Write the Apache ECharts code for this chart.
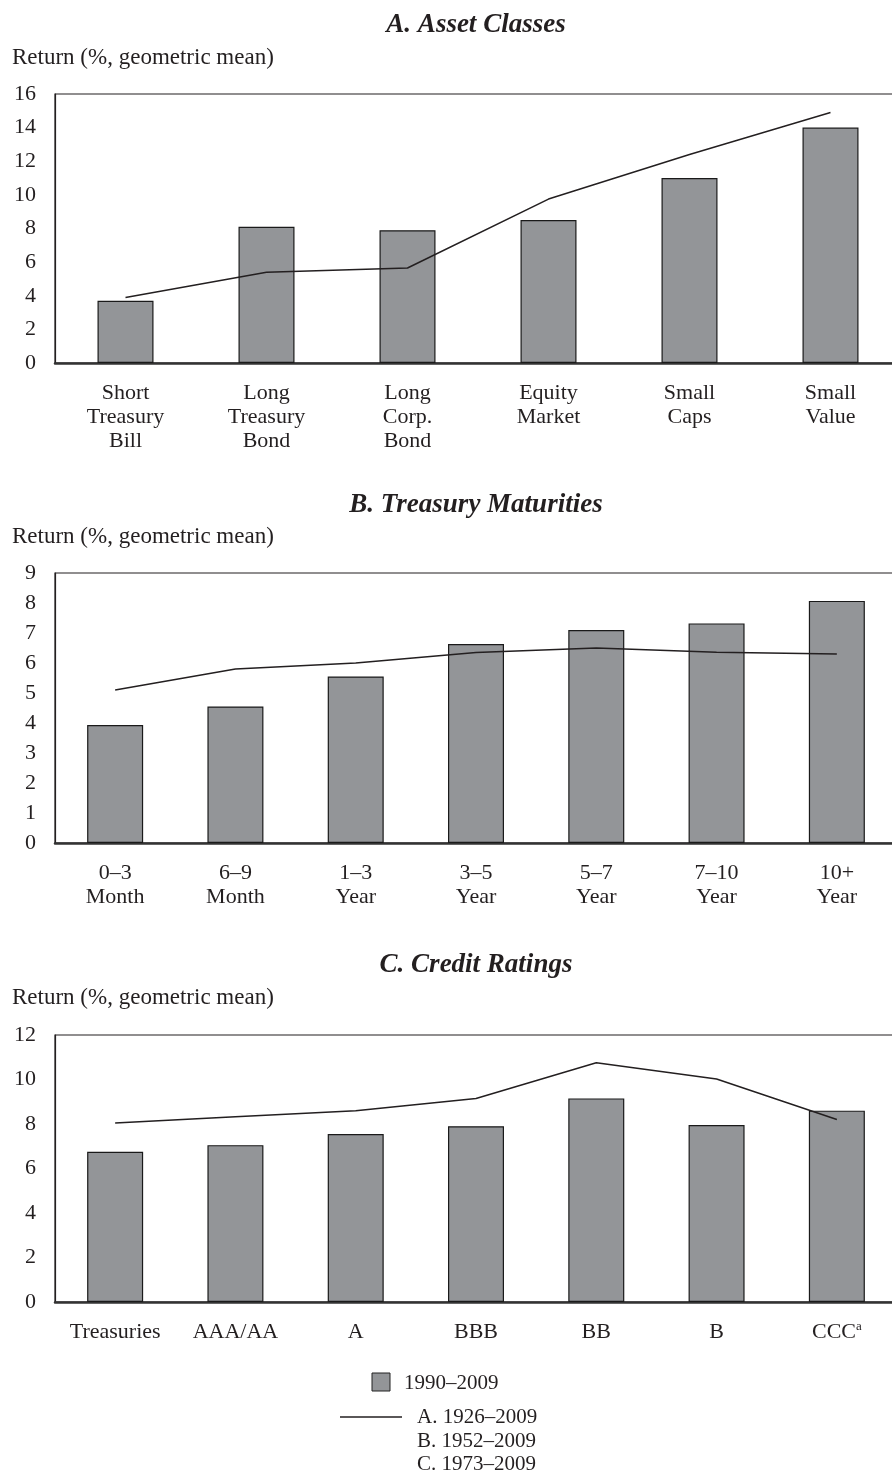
<!DOCTYPE html>
<html><head><meta charset="utf-8">
<script src="https://cdn.jsdelivr.net/npm/echarts@6/dist/echarts.min.js"></script>
<style>html,body{margin:0;padding:0;background:#fff;overflow:hidden}#c{width:920px;height:1473px}</style>
</head><body><div id="c"></div>
<script>
const catsA = ['Short\nTreasury\nBill','Long\nTreasury\nBond','Long\nCorp.\nBond','Equity\nMarket','Small\nCaps','Small\nValue'];
const barsA = [3.7, 8.1, 7.9, 8.5, 11.0, 14.0];
const lineA = [3.9, 5.4, 5.65, 9.75, 12.4, 14.9];
const ticksA = [0, 16, 2];

const catsB = ['0–3\nMonth','6–9\nMonth','1–3\nYear','3–5\nYear','5–7\nYear','7–10\nYear','10+\nYear'];
const barsB = [3.93, 4.55, 5.55, 6.63, 7.1, 7.32, 8.07];
const lineB = [5.1, 5.8, 6.0, 6.35, 6.5, 6.36, 6.3];
const ticksB = [0, 9, 1];

const catsC = ['Treasuries','AAA/AA','A','BBB','BB','B','CCCᵃ'];
const barsC = [6.75, 7.05, 7.55, 7.9, 9.15, 7.95, 8.6];
const lineC = [8.05, 8.33, 8.6, 9.15, 10.75, 10.02, 8.2];
const ticksC = [0, 12, 2];

const titles = ['A. Asset Classes','B. Treasury Maturities','C. Credit Ratings'];
const yName = 'Return (%, geometric mean)';
const legendBar = '1990–2009';
const legendLine = ['A. 1926–2009','B. 1952–2009','C. 1973–2009'];

const FONT = '"Liberation Serif", "DejaVu Serif", serif';
const ink = '#231f20';
const barFill = '#939598';

const grids = [
  {left:55, top:94, width:846, height:269},
  {left:55, top:573, width:842, height:270},
  {left:55, top:1035, width:842, height:267}
];
const titleY = [25, 505, 965];
const yNameY = [58, 537, 998];
const cats = [catsA, catsB, catsC];
const bars = [barsA, barsB, barsC];
const lines = [lineA, lineB, lineC];
const ticks = [ticksA, ticksB, ticksC];

const option = {
  animation:false,
  textStyle:{fontFamily:FONT},
  grid: grids.map(g => Object.assign({show:true, borderColor:ink, borderWidth:1.2, containLabel:false}, g)),
  xAxis: cats.map((c,i) => ({
    type:'category', gridIndex:i, data:c,
    axisLine:{show:true, lineStyle:{color:'#333', width:2.5}},
    axisTick:{show:false},
    axisLabel:{interval:0, color:ink, fontSize:22, lineHeight:24, margin:18, fontFamily:FONT,
      formatter: v => v.replace('ᵃ','{sup|a}'),
      rich:{sup:{fontSize:13, verticalAlign:'top', padding:[0,0,8,0], color:ink, fontFamily:FONT}}}
  })),
  yAxis: ticks.map((t,i) => ({
    type:'value', gridIndex:i, min:t[0], max:t[1], interval:t[2],
    axisLine:{show:true, lineStyle:{color:ink, width:1.2}},
    axisTick:{show:false},
    splitLine:{show:false},
    axisLabel:{color:ink, fontSize:22, margin:19, fontFamily:FONT}
  })),
  series: [].concat(...bars.map((b,i) => [
    {type:'bar', xAxisIndex:i, yAxisIndex:i, data:b, barWidth:56,
     itemStyle:{color:barFill, borderColor:'#1a1a1a', borderWidth:1.2}},
    {type:'line', xAxisIndex:i, yAxisIndex:i, data:lines[i], symbol:'none',
     lineStyle:{color:ink, width:1.5}, z:5}
  ])),
  graphic: [].concat(
    titles.map((t,i) => ({type:'text', x:476, y:titleY[i], style:{text:t, align:'center', verticalAlign:'middle', font:'italic bold 27px '+FONT, fill:ink}})),
    yNameY.map(y => ({type:'text', x:12, y:y, style:{text:yName, verticalAlign:'middle', font:'23px '+FONT, fill:ink}})),
    [
      {type:'rect', shape:{x:372, y:1373, width:18, height:18}, style:{fill:barFill, stroke:'#222', lineWidth:1}},
      {type:'text', x:404, y:1383, style:{text:legendBar, verticalAlign:'middle', font:'21px '+FONT, fill:ink}},
      {type:'line', shape:{x1:340, y1:1417, x2:402, y2:1417}, style:{stroke:ink, lineWidth:1.5}},
      {type:'text', x:417, y:1417, style:{text:legendLine[0], verticalAlign:'middle', font:'21px '+FONT, fill:ink}},
      {type:'text', x:417, y:1441, style:{text:legendLine[1], verticalAlign:'middle', font:'21px '+FONT, fill:ink}},
      {type:'text', x:417, y:1464, style:{text:legendLine[2], verticalAlign:'middle', font:'21px '+FONT, fill:ink}}
    ]
  )
};
echarts.init(document.getElementById('c')).setOption(option);
</script></body></html>
